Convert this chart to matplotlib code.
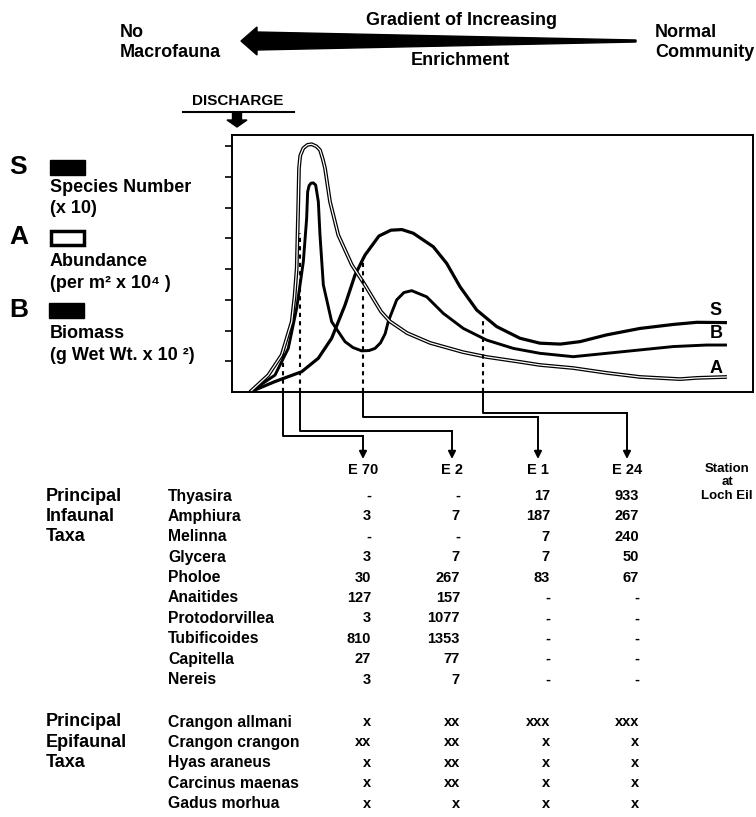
import matplotlib
matplotlib.use("Agg")
import matplotlib.pyplot as plt
from matplotlib.patches import Polygon, Rectangle, FancyArrow

plt.rcParams['font.family'] = ['Liberation Sans', 'DejaVu Sans']
plt.rcParams['font.weight'] = 'bold'

# curves: distance along the gradient (0-100) vs value in axis units
s_x = [3.45, 8.25, 13.37, 16.57, 19.13, 21.69, 23.61, 25.53, 28.2, 30.5, 32.6, 34.8, 38.64,
       41.2, 43.76, 46.97, 50.8, 55.28, 59.1, 63.0, 66.8, 71.9, 78.3, 84.7, 89.2, 95.0]
s_y = [0, 0.34, 0.66, 1.10, 1.75, 2.83, 3.81, 4.46, 5.08, 5.27, 5.29, 5.17, 4.73,
       4.19, 3.43, 2.67, 2.13, 1.75, 1.59, 1.56, 1.64, 1.86, 2.07, 2.20, 2.27, 2.26]

a_x = [3.45, 6.97, 9.54, 11.46, 12.0, 12.42, 12.73, 12.86, 13.1, 13.69, 14.5, 15.29, 16.2,
       16.89, 17.4, 17.85, 18.81, 20.4, 23.0, 25.5, 28.6, 30.3, 33.6, 38.0, 44.3, 48.9,
       55.3, 59.1, 65.5, 72.0, 78.3, 86.0, 89.3, 95.0]
a_y = [0, 0.55, 1.21, 2.29, 3.1, 4.03, 6.20, 7.29, 7.7, 7.94, 8.05, 8.07, 8.0,
       7.88, 7.6, 7.29, 6.20, 5.11, 4.14, 3.49, 2.62, 2.30, 1.92, 1.60, 1.30, 1.14,
       0.98, 0.88, 0.78, 0.62, 0.49, 0.42, 0.46, 0.49]

b_x = [3.45, 8.25, 10.8, 12.42, 13.69, 14.33, 14.52, 14.8, 15.16, 15.6, 16.06, 16.57, 16.89,
       17.53, 19.13, 21.69, 23.2, 24.89, 26.3, 27.45, 28.5, 29.4, 30.0, 31.61, 33.0, 34.49,
       37.37, 40.56, 44.4, 48.89, 54.0, 59.1, 65.5, 71.9, 78.3, 84.7, 91.1, 95.0]
b_y = [0, 0.55, 1.42, 2.73, 4.24, 5.66, 6.52, 6.72, 6.80, 6.81, 6.74, 6.20, 5.11,
       3.49, 2.29, 1.64, 1.45, 1.34, 1.35, 1.42, 1.60, 1.90, 2.30, 3.00, 3.24, 3.30,
       3.10, 2.56, 2.07, 1.69, 1.42, 1.26, 1.15, 1.26, 1.37, 1.48, 1.53, 1.53]

# sampling stations on the gradient
station_x = [9.8, 13.05, 25.1, 48.2]
dot_top = [1.30, 5.18, 4.40, 2.35]
stations = ['E 70', 'E 2', 'E 1', 'E 24']

infaunal = ['Thyasira', 'Amphiura', 'Melinna', 'Glycera', 'Pholoe', 'Anaitides',
            'Protodorvillea', 'Tubificoides', 'Capitella', 'Nereis']
e70 = [None, 3, None, 3, 30, 127, 3, 810, 27, 3]
e2 = [None, 7, None, 7, 267, 157, 1077, 1353, 77, 7]
e1 = [17, 187, 7, 7, 83, None, None, None, None, None]
e24 = [933, 267, 240, 50, 67, None, None, None, None, None]

epifaunal = ['Crangon allmani', 'Crangon crangon', 'Hyas araneus', 'Carcinus maenas', 'Gadus morhua']
epi_e70 = ['x', 'xx', 'x', 'x', 'x']
epi_e2 = ['xx', 'xx', 'xx', 'xx', 'x']
epi_e1 = ['xxx', 'x', 'x', 'x', 'x']
epi_e24 = ['xxx', 'x', 'x', 'x', 'x']

W, H = 756, 817
fig = plt.figure(figsize=(W / 100, H / 100), dpi=100)
bg = fig.add_axes([0, 0, 1, 1])
bg.set_xlim(0, W)
bg.set_ylim(H, 0)
bg.axis('off')

ax = fig.add_axes([232 / W, 1 - 392 / H, (753 - 232) / W, (392 - 135) / H])
ax.set_facecolor('none')
ax.set_xlim(0, 100)
ax.set_ylim(0, 8.37)
ax.set_xticks([])
ax.set_yticks(range(1, 9))
ax.set_yticklabels([])
ax.tick_params(axis='y', direction='out', length=5, width=1.2)
for sp in ax.spines.values():
    sp.set_linewidth(1.4)

ax.plot(s_x, s_y, color='k', lw=2.3, solid_capstyle='butt')
ax.plot(b_x, b_y, color='k', lw=2.1, solid_capstyle='butt')
ax.plot(a_x, a_y, color='k', lw=2.7, solid_capstyle='butt')
ax.plot(a_x, a_y, color='white', lw=0.9, solid_capstyle='butt')

ax.text(92.9, 2.64, 'S', fontsize=13, ha='center', va='center')
ax.text(92.9, 1.92, 'B', fontsize=13, ha='center', va='center')
ax.text(92.9, 0.78, 'A', fontsize=13, ha='center', va='center')

# station links down to the table
col_c = [363, 452, 538, 627]
col_r = [371, 460, 550, 639]
link_y = [436, 431, 417, 413]


def to_px(x, y):
    return bg.transData.inverted().transform(ax.transData.transform((x, y)))


for sx, top, cx, ly in zip(station_x, dot_top, col_c, link_y):
    ax.plot([sx, sx], [0, top], color='k', lw=1.5, ls=(0, (2, 2)))
    px, py = to_px(sx, 0)
    bg.plot([px, px, cx], [py, ly, ly], color='k', lw=1.4)
    bg.annotate('', xy=(cx, 459), xytext=(cx, ly),
                arrowprops=dict(arrowstyle='-|>', lw=1.4, color='k',
                                mutation_scale=11, shrinkA=0, shrinkB=0))

for cx, name in zip(col_c, stations):
    bg.text(cx, 470, name, fontsize=10.5, ha='center', va='center')
bg.text(727, 469, 'Station', fontsize=9.5, ha='center', va='center')
bg.text(727, 482, 'at', fontsize=9.5, ha='center', va='center')
bg.text(727, 496, 'Loch Eil', fontsize=9.5, ha='center', va='center')

# top gradient arrow and labels
bg.add_patch(Polygon([(241, 41), (257, 27), (257, 32), (636, 40), (636, 42),
                      (257, 50), (257, 55)], closed=True, color='k'))
bg.text(120, 32, 'No', fontsize=13, va='center')
bg.text(120, 52, 'Macrofauna', fontsize=13, va='center')
bg.text(461, 20, 'Gradient of Increasing', fontsize=13, ha='center', va='center')
bg.text(460, 60, 'Enrichment', fontsize=13, ha='center', va='center')
bg.text(655, 32, 'Normal', fontsize=13, va='center')
bg.text(655, 52, 'Community', fontsize=13, va='center')

bg.text(238, 101, 'DISCHARGE', fontsize=11, ha='center', va='center')
bg.plot([183, 294], [112, 112], color='k', lw=1.5)
bg.add_patch(FancyArrow(237, 112, 0, 15, width=9, head_width=20, head_length=7,
                        length_includes_head=True, color='k'))

# legend
bg.text(9, 167, 'S', fontsize=19, va='center')
bg.add_patch(Rectangle((50, 160), 35, 15, color='k'))
bg.text(50, 187, 'Species Number', fontsize=13, va='center')
bg.text(50, 208, '(x 10)', fontsize=13, va='center')
bg.text(9, 237, 'A', fontsize=19, va='center')
bg.add_patch(Rectangle((51, 231), 33, 14, fill=False, lw=2.5, ec='k'))
bg.text(50, 262, 'Abundance', fontsize=13, va='center')
bg.text(50, 284, '(per m\u00b2 x 10\u2074 )', fontsize=13, va='center')
bg.text(9, 310, 'B', fontsize=19, va='center')
bg.add_patch(Rectangle((49, 303), 35, 15, color='k'))
bg.text(50, 333, 'Biomass', fontsize=13, va='center')
bg.text(50, 355, '(g Wet Wt. x 10 \u00b2)', fontsize=13, va='center')

# table
row_y0, step = 496, 20.4
for i, lab in enumerate(['Principal', 'Infaunal', 'Taxa']):
    bg.text(46, row_y0 + i * step, lab, fontsize=13, va='center')
for i, name in enumerate(infaunal):
    y = row_y0 + i * step
    bg.text(168, y, name, fontsize=11.3, va='center')
    for cr, col in zip(col_r, [e70, e2, e1, e24]):
        v = col[i]
        bg.text(cr, y, '-' if v is None else str(v), fontsize=10.5, ha='right', va='center')

epi_y0 = 722
for i, lab in enumerate(['Principal', 'Epifaunal', 'Taxa']):
    bg.text(46, epi_y0 + i * step, lab, fontsize=13, va='center')
for i, name in enumerate(epifaunal):
    y = epi_y0 + i * step
    bg.text(168, y, name, fontsize=11.3, va='center')
    for cr, col in zip(col_r, [epi_e70, epi_e2, epi_e1, epi_e24]):
        bg.text(cr, y, col[i], fontsize=10.5, ha='right', va='center')

fig.savefig('out.png', dpi=100)
